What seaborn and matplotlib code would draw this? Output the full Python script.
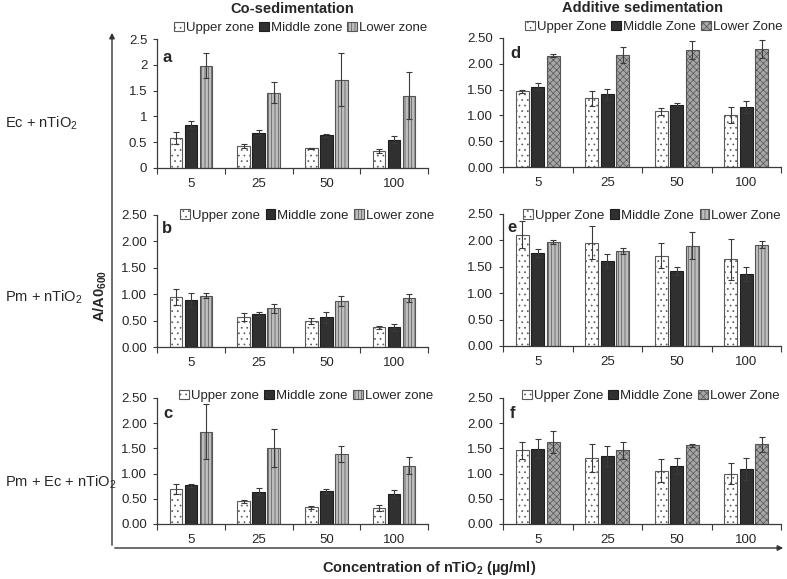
import numpy as np
import pandas as pd
import matplotlib
matplotlib.use("Agg")
import matplotlib.pyplot as plt
import matplotlib.patches as mpatches
from matplotlib.ticker import FormatStrFormatter
import seaborn as sns

sns.set_style("ticks")
plt.rcParams['font.family'] = ['Liberation Sans', 'DejaVu Sans']
plt.rcParams['mathtext.fontset'] = 'custom'
plt.rcParams['mathtext.rm'] = 'Liberation Sans'
plt.rcParams['mathtext.bf'] = 'Liberation Sans:bold'
plt.rcParams['mathtext.default'] = 'regular'
plt.rcParams['hatch.linewidth'] = 0.5

# x categories and legend labels
conc = ["5", "25", "50", "100"]
zones_co = ["Upper zone", "Middle zone", "Lower zone"]
zones_add = ["Upper Zone", "Middle Zone", "Lower Zone"]

# values: rows = upper, middle, lower
a_mean = [[0.58, 0.42, 0.38, 0.33], [0.84, 0.68, 0.63, 0.55], [1.98, 1.46, 1.71, 1.40]]
a_err = [[0.11, 0.04, 0.01, 0.03], [0.07, 0.05, 0.03, 0.07], [0.24, 0.21, 0.51, 0.46]]
b_mean = [[0.94, 0.57, 0.49, 0.37], [0.89, 0.63, 0.56, 0.37], [0.97, 0.73, 0.87, 0.93]]
b_err = [[0.15, 0.07, 0.05, 0.03], [0.14, 0.04, 0.10, 0.07], [0.05, 0.08, 0.09, 0.08]]
c_mean = [[0.70, 0.45, 0.33, 0.32], [0.77, 0.64, 0.66, 0.60], [1.83, 1.51, 1.39, 1.16]]
c_err = [[0.10, 0.03, 0.03, 0.06], [0.03, 0.07, 0.04, 0.08], [0.55, 0.38, 0.16, 0.17]]
d_mean = [[1.47, 1.33, 1.08, 1.01], [1.56, 1.41, 1.21, 1.16], [2.16, 2.17, 2.27, 2.29]]
d_err = [[0.03, 0.14, 0.07, 0.15], [0.06, 0.11, 0.03, 0.12], [0.03, 0.15, 0.17, 0.17]]
e_mean = [[2.11, 1.96, 1.71, 1.64], [1.76, 1.61, 1.42, 1.36], [1.97, 1.80, 1.90, 1.92]]
e_err = [[0.26, 0.31, 0.24, 0.39], [0.08, 0.14, 0.08, 0.13], [0.03, 0.05, 0.25, 0.07]]
f_mean = [[1.46, 1.31, 1.06, 1.00], [1.49, 1.35, 1.15, 1.09], [1.62, 1.46, 1.56, 1.58]]
f_err = [[0.17, 0.28, 0.22, 0.21], [0.19, 0.20, 0.15, 0.22], [0.22, 0.17, 0.03, 0.15]]

row_labels = ["Ec + nTiO$_2$", "Pm + nTiO$_2$", "Pm + Ec + nTiO$_2$"]

W, H = 787, 579
fig = plt.figure(figsize=(W / 100, H / 100), dpi=100)

def px_axes(x0, x1, ytop, ybot):
    return fig.add_axes([x0 / W, 1 - ybot / H, (x1 - x0) / W, (ybot - ytop) / H])

# (means, errs, zones, letter, lower style, axes box, legend pos, letter pos, tick fmt)
panels = [
    (a_mean, a_err, zones_co, "a", "lines", (157, 428, 39, 168), (0.53, 1.085), (0.037, 0.86), None),
    (b_mean, b_err, zones_co, "b", "lines", (157, 428, 215, 347), (0.555, 0.995), (0.037, 0.894), "%.2f"),
    (c_mean, c_err, zones_co, "c", "lines", (157, 428, 398, 524), (0.55, 1.016), (0.04, 0.88), "%.2f"),
    (d_mean, d_err, zones_add, "d", "check", (503, 781, 38, 167), (0.543, 1.085), (0.043, 0.876), "%.2f"),
    (e_mean, e_err, zones_add, "e", "lines", (503, 781, 214, 346), (0.536, 0.99), (0.032, 0.90), "%.2f"),
    (f_mean, f_err, zones_add, "f", "check", (503, 781, 398, 524), (0.532, 1.016), (0.035, 0.88), "%.2f"),
]

edge = "#3a3a3a"
can_hatchcolor = hasattr(mpatches.Patch, "set_hatchcolor")

for means, errs, zones, letter, lower, box, leg_pos, let_pos, fmt in panels:
    ax = px_axes(*box)
    df = pd.DataFrame({
        "conc": np.tile(conc, 3),
        "zone": np.repeat(zones, 4),
        "value": np.ravel(means),
    })
    sns.barplot(data=df, x="conc", y="value", hue="zone", order=conc, hue_order=zones,
                palette=["white", "#2e2e2e", "#b4b4b4"], width=0.667, gap=0.17,
                errorbar=None, legend=False, linewidth=0.8, edgecolor=edge, ax=ax)
    # (face, edge, hatch, hatch colour)
    styles = [("white", "#5a5a5a", "...", "#a8a8a8"),
              ("#303030", "#1e1e1e", None, None),
              ("#bdbdbd", "#555555", "|||||", "#8a8a8a") if lower == "lines"
              else ("#a6a6a6", "#555555", "xxxxx", "#7a7a7a")]
    for cont, (fc, ec, hatch, hc), err in zip(ax.containers, styles, errs):
        for bar, e in zip(cont, err):
            bar.set_facecolor(fc)
            bar.set_edgecolor(ec)
            bar.set_hatch(hatch)
            if can_hatchcolor and hc:
                bar.set_hatchcolor(hc)
            ax.errorbar(bar.get_x() + bar.get_width() / 2, bar.get_height(), yerr=e,
                        fmt="none", ecolor="#3a3a3a", elinewidth=0.8, capsize=2, capthick=0.8)

    ax.set_xlim(-0.5, 3.5)
    ax.set_ylim(0, 2.5)
    ax.set_yticks(np.arange(0, 2.51, 0.5))
    if fmt:
        ax.yaxis.set_major_formatter(FormatStrFormatter(fmt))
    else:
        ax.set_yticklabels(["0", "0.5", "1", "1.5", "2", "2.5"])
    ax.set_xticks([-0.5, 0.5, 1.5, 2.5, 3.5], [""] * 5)
    ax.set_xticks([0, 1, 2, 3], conc, minor=True)
    ax.tick_params(axis="x", which="major", length=4, width=0.8, color=edge)
    ax.tick_params(axis="x", which="minor", length=0, pad=7, labelsize=9.5)
    ax.tick_params(axis="y", length=3, width=0.8, color=edge, pad=4, labelsize=9.5)
    ax.set_xlabel("")
    ax.set_ylabel("")
    for s in ["top", "right"]:
        ax.spines[s].set_visible(False)
    for s in ["left", "bottom"]:
        ax.spines[s].set_color(edge)
        ax.spines[s].set_linewidth(0.9)

    ax.legend([c[0] for c in ax.containers], zones, loc="center", bbox_to_anchor=leg_pos,
              ncol=3, frameon=False, fontsize=9.5, handlelength=0.75, handleheight=0.75,
              handletextpad=0.15, columnspacing=0.4, borderpad=0, borderaxespad=0)
    ax.text(let_pos[0], let_pos[1], letter, transform=ax.transAxes, fontsize=12,
            fontweight="bold", ha="center", va="center")

fig.text(292 / W, 1 - 9 / H, "Co-sedimentation", ha="center", va="center",
         fontsize=10.5, fontweight="bold")
fig.text(642 / W, 1 - 8 / H, "Additive sedimentation", ha="center", va="center",
         fontsize=10.5, fontweight="bold")
for lab, y in zip(row_labels, [123, 297, 482]):
    fig.text(5 / W, 1 - y / H, lab, ha="left", va="center", fontsize=10.5)
fig.text(100 / W, 1 - 296 / H, "A/A0$_{600}$", rotation=90, ha="center", va="center",
         fontsize=10.5, fontweight="bold")
fig.text(429 / W, 1 - 568 / H, "Concentration of nTiO$_2$ (µg/ml)", ha="center",
         va="center", fontsize=10.5, fontweight="bold")

# L-shaped arrows framing the panels
x0, y0 = 112 / W, 1 - 548 / H
fig.add_artist(mpatches.FancyArrowPatch((x0, y0), (x0, 1 - 30 / H), transform=fig.transFigure,
                                        arrowstyle="-|>", mutation_scale=8, lw=1, color="#333333"))
fig.add_artist(mpatches.FancyArrowPatch((x0, y0), (786 / W, y0), transform=fig.transFigure,
                                        arrowstyle="-|>", mutation_scale=8, lw=1, color="#333333"))

fig.savefig("out.png", dpi=100)
